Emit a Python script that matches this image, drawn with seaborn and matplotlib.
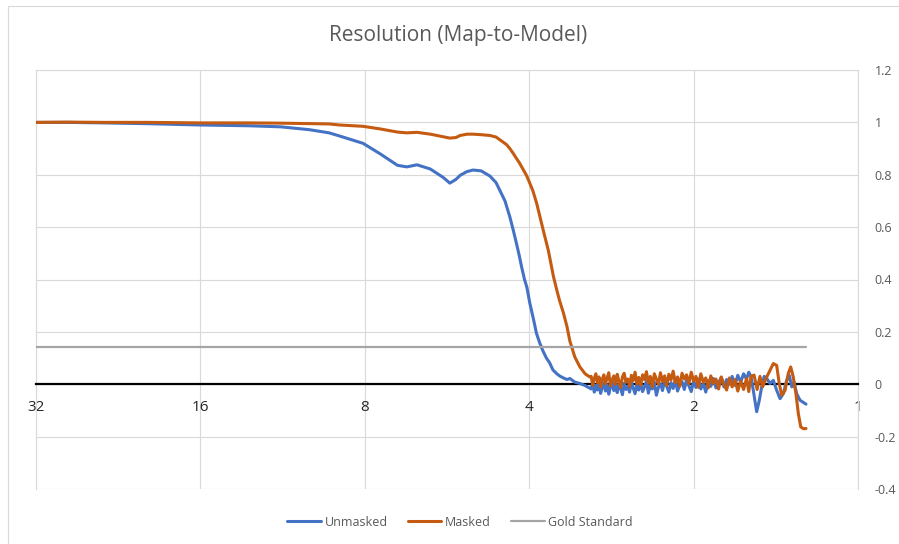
import numpy as np
import pandas as pd
import matplotlib
matplotlib.use("Agg")
import matplotlib.pyplot as plt
from matplotlib.ticker import NullLocator
from matplotlib.patches import Rectangle
import seaborn as sns

# ---------------- data ----------------
# resolution (Angstrom) and FSC, smooth part
unmasked_res_low = [32, 28, 24, 20, 16, 13, 11.4, 10.1, 9.3, 8.9, 8.06, 7.5, 6.97, 6.7, 6.42, 6.07,
                    5.75, 5.59, 5.45, 5.35, 5.2, 5.07, 4.9, 4.72, 4.6, 4.526, 4.43, 4.34, 4.28, 4.22,
                    4.17, 4.13, 4.08, 4.04, 3.99, 3.93, 3.88, 3.83, 3.78, 3.72, 3.67, 3.62, 3.56, 3.52,
                    3.47, 3.41, 3.37, 3.30, 3.23, 3.16]
unmasked_fsc_low = [1.000, 1.000, 0.998, 0.995, 0.990, 0.987, 0.983, 0.972, 0.960, 0.948, 0.920, 0.880,
                    0.836, 0.830, 0.838, 0.822, 0.790, 0.768, 0.782, 0.798, 0.812, 0.818, 0.815, 0.795,
                    0.770, 0.740, 0.700, 0.639, 0.590, 0.537, 0.490, 0.448, 0.400, 0.371, 0.310, 0.250,
                    0.195, 0.160, 0.130, 0.100, 0.082, 0.055, 0.040, 0.032, 0.025, 0.018, 0.022, 0.008,
                    0.003, -0.005]

masked_res_low = [32, 28, 24, 20, 16, 13, 11.4, 10.1, 9.3, 8.9, 8.06, 7.5, 6.97, 6.7, 6.42, 6.07,
                  5.75, 5.59, 5.45, 5.35, 5.2, 5.07, 4.9, 4.72, 4.6, 4.47, 4.40, 4.34, 4.28, 4.22,
                  4.17, 4.04, 3.94, 3.875, 3.77, 3.69, 3.61, 3.56, 3.52, 3.46, 3.41, 3.37, 3.30, 3.23,
                  3.16, 3.10]
masked_fsc_low = [1.000, 1.001, 1.000, 1.000, 0.998, 0.998, 0.997, 0.995, 0.994, 0.990, 0.985, 0.975,
                  0.963, 0.960, 0.962, 0.955, 0.945, 0.940, 0.942, 0.950, 0.955, 0.955, 0.953, 0.950,
                  0.944, 0.925, 0.915, 0.900, 0.882, 0.862, 0.846, 0.795, 0.740, 0.690, 0.588, 0.511,
                  0.410, 0.359, 0.320, 0.270, 0.219, 0.165, 0.104, 0.066, 0.040, 0.028]

# noisy region (shared resolution grid)
noise_res = [3.08, 3.06, 3.04, 3.02, 3.00, 2.98, 2.96, 2.94, 2.92, 2.90,
             2.88, 2.86, 2.84, 2.82, 2.80, 2.78, 2.76, 2.74, 2.72, 2.70,
             2.68, 2.66, 2.64, 2.62, 2.60, 2.58, 2.56, 2.54, 2.52, 2.50,
             2.48, 2.46, 2.44, 2.42, 2.40, 2.38, 2.36, 2.34, 2.32, 2.30,
             2.28, 2.26, 2.24, 2.22, 2.20, 2.18, 2.16, 2.14, 2.12, 2.10,
             2.08, 2.06, 2.04, 2.02, 2.00, 1.98, 1.96, 1.94, 1.92, 1.90,
             1.88, 1.86, 1.84, 1.82, 1.80, 1.78, 1.76, 1.74, 1.72, 1.70,
             1.68, 1.66, 1.64, 1.62]
unmasked_fsc_noise = [-0.018, 0.006, -0.030, -0.004, -0.022, 0.010, -0.035, -0.012, 0.004, -0.026,
                      -0.002, -0.038, -0.010, 0.008, -0.024, -0.006, -0.032, 0.002, -0.016, -0.040,
                      0.004, -0.020, -0.008, -0.030, 0.010, -0.014, -0.036, -0.002, -0.022, 0.006,
                      -0.028, -0.010, 0.012, -0.034, -0.004, -0.018, 0.008, -0.042, -0.012, 0.002,
                      -0.024, 0.014, -0.008, -0.030, 0.006, -0.016, 0.018, -0.026, -0.002, 0.010,
                      -0.020, 0.016, -0.006, -0.028, 0.012, -0.012, 0.020, -0.018, 0.004, -0.030,
                      0.014, -0.008, 0.022, -0.014, 0.006, 0.026, -0.010, 0.018, 0.000, 0.030,
                      -0.004, 0.034, 0.008, 0.040]
masked_fsc_noise = [0.030, -0.004, 0.022, 0.040, 0.006, 0.028, -0.010, 0.018, 0.036, 0.002,
                    0.024, 0.044, -0.006, 0.016, 0.032, 0.000, 0.038, 0.012, -0.012, 0.028,
                    0.042, 0.008, 0.020, -0.008, 0.034, 0.014, 0.046, 0.002, 0.026, -0.004,
                    0.036, 0.018, 0.048, 0.004, 0.030, -0.010, 0.040, 0.020, 0.000, 0.044,
                    0.010, 0.032, -0.006, 0.038, 0.016, 0.050, 0.006, 0.028, -0.008, 0.042,
                    0.020, 0.036, 0.002, 0.046, 0.012, 0.030, -0.012, 0.040, 0.008, 0.024,
                    -0.014, 0.032, 0.004, 0.020, -0.018, 0.028, 0.000, -0.022, 0.024, -0.010,
                    0.018, -0.026, 0.012, -0.020]

# high-resolution tail
unmasked_res_tail = [1.600, 1.585, 1.570, 1.555, 1.533, 1.516, 1.501, 1.485, 1.469, 1.449, 1.429,
                     1.409, 1.389, 1.370, 1.351, 1.336, 1.322, 1.310, 1.295, 1.277, 1.262, 1.245]
unmasked_fsc_tail = [0.020, 0.046, 0.030, -0.023, -0.105, -0.061, -0.010, 0.030, 0.022, 0.003, 0.015,
                     -0.023, -0.055, -0.036, 0.015, 0.034, -0.010, 0.009, -0.036, -0.061, -0.068, -0.076]
masked_res_tail = [1.600, 1.585, 1.570, 1.550, 1.530, 1.512, 1.495, 1.482, 1.469, 1.449, 1.429, 1.409,
                   1.394, 1.379, 1.360, 1.342, 1.328, 1.314, 1.299, 1.286, 1.273, 1.258, 1.245]
masked_fsc_tail = [0.022, -0.028, 0.030, 0.035, -0.020, 0.030, -0.010, 0.010, 0.028, 0.053, 0.079, 0.072,
                   0.003, -0.042, -0.023, 0.041, 0.066, 0.028, -0.036, -0.112, -0.163, -0.170, -0.169]

gold_res = [32, 1.245]
gold_fsc = [0.143, 0.143]

series_names = ["Unmasked", "Masked", "Gold Standard"]
series_colors = ["#4472C4", "#C55A11", "#A5A5A5"]

x_ticks = [32, 16, 8, 4, 2, 1]
x_tick_labels = ["32", "16", "8", "4", "2", "1"]
y_ticks = [-0.4, -0.2, 0, 0.2, 0.4, 0.6, 0.8, 1.0, 1.2]
y_tick_labels = ["-0.4", "-0.2", "0", "0.2", "0.4", "0.6", "0.8", "1", "1.2"]

title = "Resolution (Map-to-Model)"

# ---------------- figure ----------------
sns.set_theme(style="white")
plt.rcParams["font.family"] = ["Open Sans", "DejaVu Sans"]

df = pd.concat([
    pd.DataFrame({"res": unmasked_res_low + noise_res + unmasked_res_tail,
                  "fsc": unmasked_fsc_low + unmasked_fsc_noise + unmasked_fsc_tail,
                  "series": series_names[0]}),
    pd.DataFrame({"res": masked_res_low + noise_res + masked_res_tail,
                  "fsc": masked_fsc_low + masked_fsc_noise + masked_fsc_tail,
                  "series": series_names[1]}),
    pd.DataFrame({"res": gold_res, "fsc": gold_fsc, "series": series_names[2]}),
], ignore_index=True)

W, H = 899, 544
fig = plt.figure(figsize=(W / 100, H / 100), dpi=100)
ax = fig.add_axes([36 / W, 1 - 489 / H, (858 - 36) / W, (489 - 70) / H])

palette = dict(zip(series_names, series_colors))
sns.lineplot(data=df, x="res", y="fsc", hue="series", palette=palette,
             estimator=None, sort=False, ax=ax, legend=False, linewidth=2.2, zorder=3)
ax.lines[2].set_linewidth(1.6)

ax.set_xscale("log", base=2)
ax.set_xlim(32, 1)
ax.set_ylim(-0.4, 1.2)
ax.set_xticks(x_ticks)
ax.set_xticklabels(x_tick_labels, fontweight="bold", color="#595959", fontsize=9.5)
ax.xaxis.set_minor_locator(NullLocator())
ax.yaxis.tick_right()
ax.set_yticks(y_ticks)
ax.set_yticklabels(y_tick_labels, color="#595959", fontsize=9)
ax.tick_params(axis="x", length=0, pad=11)
ax.tick_params(axis="y", length=0, pad=12)
ax.set_xlabel("")
ax.set_ylabel("")

ax.grid(True, color="#D9D9D9", linewidth=0.8)
ax.set_axisbelow(True)
for s in ("left", "right", "top"):
    ax.spines[s].set_color("#D9D9D9")
    ax.spines[s].set_linewidth(0.8)
ax.spines["bottom"].set_position(("data", 0))
ax.spines["bottom"].set_color("black")
ax.spines["bottom"].set_linewidth(1.6)
ax.spines["bottom"].set_zorder(2.5)

fig.text(458 / W, 1 - 35 / H, title, ha="center", va="center", fontsize=15, color="#595959")

fig.legend(handles=ax.lines[:3], labels=series_names, loc="center",
           bbox_to_anchor=(460 / W, 1 - 522 / H), ncol=3, frameon=False, fontsize=9,
           handlelength=2.7, handletextpad=0.3, columnspacing=1.6, labelcolor="#595959")

fig.patches.append(Rectangle((8 / W, -0.1), 1.2, 1.1 - 6 / H, transform=fig.transFigure,
                             fill=False, edgecolor="#D9D9D9", linewidth=0.8))

fig.savefig("out.png", dpi=100, facecolor="white")
